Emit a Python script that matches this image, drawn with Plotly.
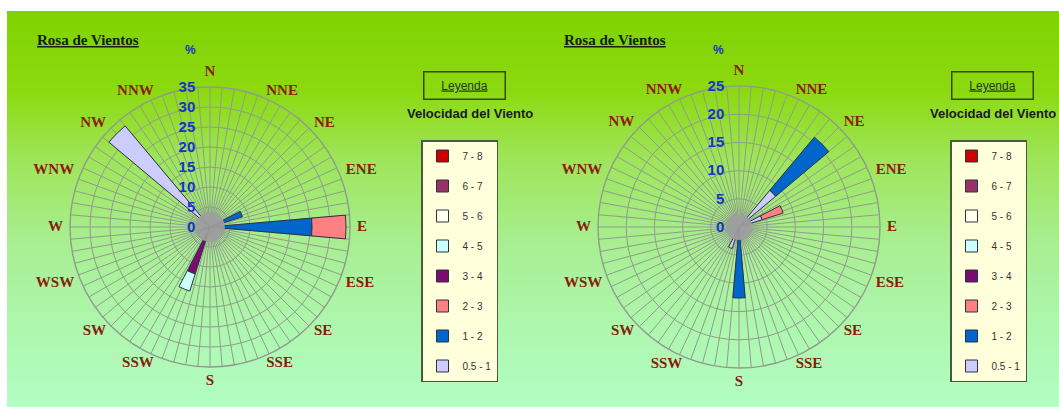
import plotly.graph_objects as go

W, H = 1059, 407

# ---------------- data ----------------
directions = ["N", "NNE", "NE", "ENE", "E", "ESE", "SE", "SSE",
              "S", "SSW", "SW", "WSW", "W", "WNW", "NW", "NNW"]
classes = ["0.5 - 1", "1 - 2", "2 - 3", "3 - 4", "4 - 5", "5 - 6", "6 - 7", "7 - 8"]
class_colors = ["#CCCCFF", "#0066CC", "#FF8080", "#7A0C6E",
                "#CCFFFF", "#FFFFEE", "#993366", "#CC0000"]

# left rose (% frequency by direction)
#            N  NNE NE ENE   E  ESE SE SSE S  SSW  SW WSW  W WNW NW NNW
left_05_1 = [0, 0, 0, 0, 0, 0, 0, 0, 0, 0, 0, 3.5, 0, 0, 33, 0]
left_1_2 = [0, 0, 0, 8.5, 25.5, 0, 0, 0, 0, 0, 0, 0, 0, 0, 0, 0]
left_2_3 = [0, 0, 0, 0, 8.5, 0, 0, 0, 0, 0, 0, 0, 0, 0, 0, 0]
left_3_4 = [0, 0, 0, 0, 0, 0, 0, 0, 0, 12.3, 0, 0, 0, 0, 0, 0]
left_4_5 = [0, 0, 0, 0, 0, 0, 0, 0, 0, 4.5, 0, 0, 0, 0, 0, 0]
left_5_6 = [0] * 16
left_6_7 = [0] * 16
left_7_8 = [0] * 16

# right rose
right_05_1 = [0, 0, 8.5, 4.3, 0, 0, 0, 0, 0, 4.0, 0, 0, 0, 0, 0, 0]
right_1_2 = [0, 0, 12.3, 0, 0, 0, 0, 0, 12.6, 0, 0, 0, 0, 0, 0, 0]
right_2_3 = [0, 0, 0, 3.9, 0, 0, 0, 0, 0, 0, 0, 0, 0, 0, 0, 0]
right_3_4 = [0] * 16
right_4_5 = [0] * 16
right_5_6 = [0] * 16
right_6_7 = [0] * 16
right_7_8 = [0] * 16

left_ticks = [0, 5, 10, 15, 20, 25, 30, 35]
right_ticks = [0, 5, 10, 15, 20, 25]

# grey hub drawn over the centre of each rose (radial units)
left_hub = 3.7
right_hub = 2.3

left_series = [left_05_1, left_1_2, left_2_3, left_3_4, left_4_5, left_5_6, left_6_7, left_7_8]
right_series = [right_05_1, right_1_2, right_2_3, right_3_4, right_4_5, right_5_6, right_6_7, right_7_8]

# ---------------- style ----------------
dir_angles = [i * 360 / len(directions) for i in range(len(directions))]
spokes = list(range(0, 360, 5))
grid_col = "#8F9C8C"
dir_font = dict(family="Liberation Serif", size=15, color="#8A1C0C", weight="bold")
tick_font = dict(family="Liberation Sans", size=15, color="#1436C8", weight="bold")
label_factor = 1.05   # direction labels anchored just outside the outer ring
outer_factor = 1.12   # range of the overlay subplot that holds hub + labels


def text_pos(a):
    if a % 360 == 0:
        return "top center"
    if a == 180:
        return "bottom center"
    return "middle right" if a < 180 else "middle left"


dir_positions = [text_pos(a) for a in dir_angles]

fig = go.Figure()


def add_rose(series, legend, grid_sub, label_sub, gid, hub, rmax):
    n = len(classes)
    for i, (name, vals, col) in enumerate(zip(classes, series, class_colors)):
        th = [a for a, v in zip(dir_angles, vals) if v]
        rr = [v for v in vals if v]
        fig.add_trace(go.Barpolar(
            r=rr if rr else [None], theta=th if th else [0], name=name,
            width=10, marker=dict(color=col, line=dict(color="#2B3340", width=1)),
            subplot=grid_sub, legend=legend, legendgroup=gid + name,
            legendrank=100 + n - i, hoverinfo="skip"))
    fig.add_trace(go.Barpolar(
        r=[hub], theta=[0], width=360, base=0,
        marker=dict(color="rgba(158,158,158,0.92)", line=dict(width=0)),
        showlegend=False, hoverinfo="skip", subplot=label_sub))
    fig.add_trace(go.Scatterpolar(
        r=[rmax * label_factor] * len(directions), theta=dir_angles,
        text=directions, mode="text", textposition=dir_positions,
        textfont=dir_font, cliponaxis=False, showlegend=False,
        hoverinfo="skip", subplot=label_sub))


add_rose(left_series, "legend", "polar", "polar2", "L", left_hub, left_ticks[-1])
add_rose(right_series, "legend2", "polar3", "polar4", "R", right_hub, right_ticks[-1])


def domain(cx, cy, rad, f=1.0):
    return dict(x=[(cx - rad * f) / W, (cx + rad * f) / W],
                y=[(cy - rad * f) / H, (cy + rad * f) / H])


def grid_polar(dom, ticks):
    return dict(
        domain=dom, bgcolor="rgba(0,0,0,0)", barmode="stack",
        angularaxis=dict(type="linear", direction="clockwise", rotation=90,
                         tickmode="array", tickvals=spokes, showticklabels=False,
                         ticks="", showgrid=True, gridcolor=grid_col, gridwidth=1,
                         showline=True, linecolor=grid_col, linewidth=1.4),
        radialaxis=dict(range=[0, ticks[-1]], tickmode="array", tickvals=ticks,
                        angle=90, tickangle=90, side="counterclockwise",
                        showline=False, ticks="outside", ticklen=9,
                        tickcolor="rgba(0,0,0,0)", gridcolor=grid_col, gridwidth=1,
                        tickfont=tick_font),
    )


def label_polar(dom, ticks):
    return dict(
        domain=dom, bgcolor="rgba(0,0,0,0)",
        angularaxis=dict(type="linear", direction="clockwise", rotation=90,
                         showgrid=False, showline=False, ticks="",
                         showticklabels=False),
        radialaxis=dict(visible=False, range=[0, ticks[-1] * outer_factor]),
    )


# centres / radii in pixels (y measured from the bottom)
L_c = (210, 180, 140)
R_c = (739, 180, 141)

legend_common = dict(
    bgcolor="#FFFFDC", bordercolor="#4A5A3A", borderwidth=1.5,
    font=dict(family="Liberation Sans", size=10, color="#333333"),
    traceorder="grouped", tracegroupgap=11,
    xanchor="left", yanchor="top",
)

# gradient background
stops = [(11, (127, 211, 0)), (90, (140, 217, 16)), (160, (158, 229, 90)),
         (240, (168, 238, 144)), (320, (173, 246, 172)), (407, (178, 254, 196))]


def grad(y):
    for (y0, c0), (y1, c1) in zip(stops[:-1], stops[1:]):
        if y0 <= y <= y1:
            t = (y - y0) / (y1 - y0)
            return "rgb(%d,%d,%d)" % tuple(round(a + (b - a) * t) for a, b in zip(c0, c1))
    return "rgb(%d,%d,%d)" % stops[-1][1]


shapes = []
step = 3
y = 11
while y < H:
    col = grad(y + step / 2)
    shapes.append(dict(type="rect", xref="paper", yref="paper",
                       x0=7 / W, x1=1, y0=1 - min(y + step + 0.5, H) / H,
                       y1=1 - y / H, line=dict(width=0), fillcolor=col,
                       layer="below"))
    y += step

annotations = []
for xl, xc, xp, xv in [(35, 464, 190, 470), (562, 992, 718, 993)]:
    annotations.append(dict(x=xl / W, y=1 - 40 / H, xref="paper", yref="paper",
                            xanchor="left", yanchor="middle", showarrow=False,
                            text="<b><u>Rosa de Vientos</u></b>",
                            font=dict(family="Liberation Serif", size=15, color="#15200C")))
    annotations.append(dict(x=xp / W, y=1 - 50 / H, xref="paper", yref="paper",
                            xanchor="center", yanchor="middle",
                            showarrow=False, text="<b>%</b>",
                            font=dict(family="Liberation Sans", size=12, color="#1436C8")))
    annotations.append(dict(x=xc / W, y=1 - 86 / H, xref="paper", yref="paper",
                            xanchor="center", yanchor="middle",
                            showarrow=False, text="<u>Leyenda</u>",
                            width=78, height=24, bordercolor="#2E4A1E", borderwidth=1.5,
                            font=dict(family="Liberation Sans", size=12, color="#1E3A1E")))
    annotations.append(dict(x=xv / W, y=1 - 113 / H, xref="paper", yref="paper",
                            xanchor="center", yanchor="middle",
                            showarrow=False, text="<b>Velocidad del Viento</b>",
                            font=dict(family="Liberation Sans", size=13, color="#1A1A1A")))

fig.update_layout(
    width=W, height=H, margin=dict(l=0, r=0, t=0, b=0),
    paper_bgcolor="white", plot_bgcolor="rgba(0,0,0,0)",
    polar=grid_polar(domain(*L_c), left_ticks),
    polar2=label_polar(domain(*L_c, outer_factor), left_ticks),
    polar3=grid_polar(domain(*R_c), right_ticks),
    polar4=label_polar(domain(*R_c, outer_factor), right_ticks),
    legend=dict(x=421 / W, y=1 - 140 / H, **legend_common),
    legend2=dict(x=950 / W, y=1 - 140 / H, **legend_common),
    shapes=shapes, annotations=annotations,
)

fig.write_html("out.html", config={"displayModeBar": False},
               post_script="document.body.style.margin='0';")
